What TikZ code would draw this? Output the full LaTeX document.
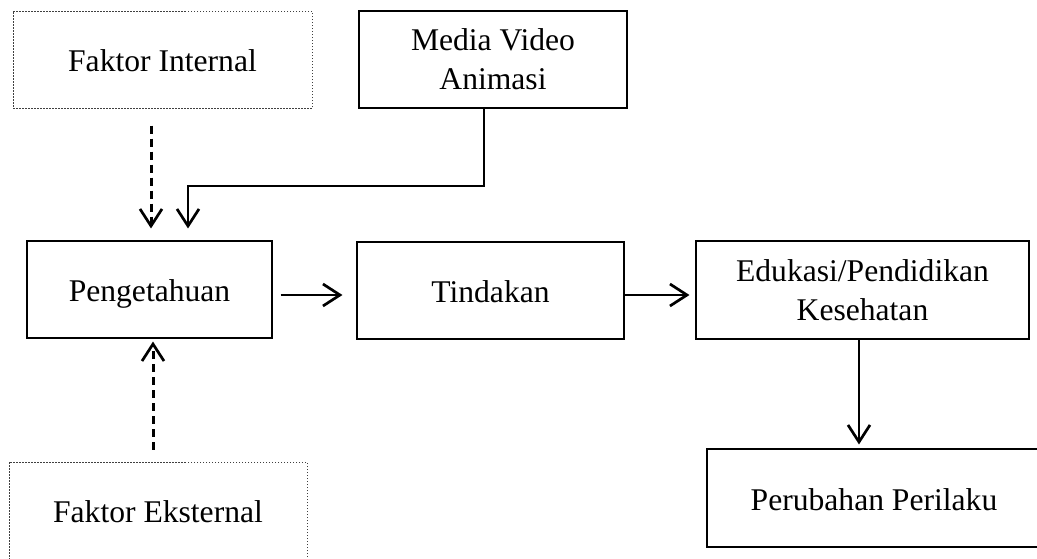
\documentclass[tikz,border=0pt]{standalone}
\usepackage{fontspec}
\setmainfont{Liberation Serif}
\usetikzlibrary{arrows.meta,calc}
\tikzset{
  box/.style={draw=black, line width=1.1pt, rectangle, inner sep=0pt, align=center,
    font=\fontsize{31.6}{39}\selectfont},
  oneline/.style={text height=24pt, text depth=0pt},
  dotbox/.style={box, draw=black!75, line width=1pt, dash pattern=on 1.5pt off 1.5pt},
  arr/.style={line width=2.7pt, -{Straight Barb[length=17pt,width=22pt,line width=2.7pt]}},
  dasharr/.style={arr, dash pattern=on 8pt off 5pt, line width=3pt},
}
\begin{document}
\begin{tikzpicture}[x=1pt,y=-1pt]
\useasboundingbox (0,0) rectangle (1037,558);
\clip (0,0) rectangle (1037,558);
\fill[white] (0,0) rectangle (1037,558);
\node[dotbox, oneline, minimum width=299pt, minimum height=97pt] (fi) at (162.5,59.5) {Faktor Internal};
\node[box, minimum width=268pt, minimum height=97pt] (mv) at (493,59.5) {Media Video\\Animasi};
\node[box, oneline, minimum width=245pt, minimum height=97pt] (pg) at (149.5,289.5) {Pengetahuan};
\node[box, oneline, minimum width=267pt, minimum height=97pt] (td) at (490.5,290.5) {Tindakan};
\node[box, minimum width=333pt, minimum height=98pt] (ed) at (862.5,290) {Edukasi/Pendidikan\\Kesehatan};
\node[box, oneline, minimum width=334pt, minimum height=98pt] (pp) at (874,498) {Perubahan Perilaku};
\node[dotbox, oneline, minimum width=298pt, minimum height=97pt] (fe) at (158,510.5) {Faktor Eksternal};
\coordinate (x1) at (151,0);
\coordinate (x2) at (188,0);
\coordinate (x3) at (484,0);
\coordinate (x4) at (859,0);
\coordinate (x5) at (153,0);
\coordinate (y1) at (0,186);
\coordinate (y2) at (0,295);
\draw[dasharr, shorten <=17pt, shorten >=12pt] (fi.south -| x1) -- (pg.north -| x1);
\draw[arr, shorten >=12pt] (mv.south -| x3) |- (y1 -| x2) -- (pg.north -| x2);
\draw[arr, shorten <=8pt, shorten >=14pt] (pg.east |- y2) -- (td.west |- y2);
\draw[arr, shorten >=6pt] (td.east |- y2) -- (ed.west |- y2);
\draw[arr, shorten >=4pt] (ed.south -| x4) -- (pp.north -| x4);
\draw[dasharr, shorten <=12pt, shorten >=3pt] (fe.north -| x5) -- (pg.south -| x5);
\end{tikzpicture}
\end{document}
